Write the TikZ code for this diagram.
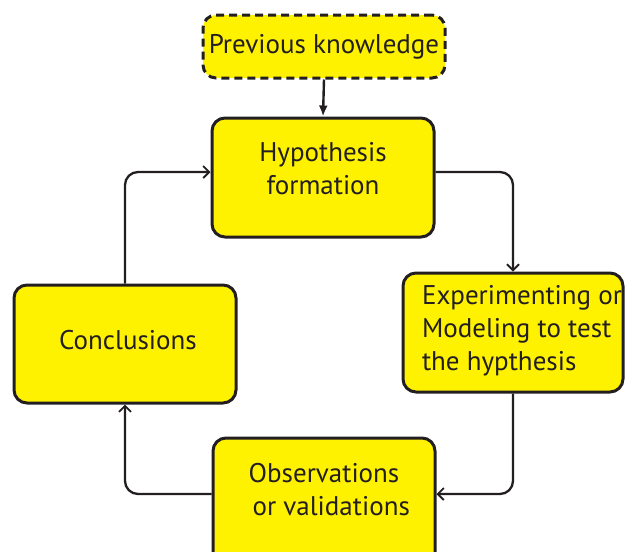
\documentclass[tikz,border=0pt]{standalone}
\usepackage{fontspec}
\setmainfont{PT Sans}
\usetikzlibrary{arrows.meta,calc}
\definecolor{boxyellow}{HTML}{FFF200}
\definecolor{ink}{HTML}{231F20}
\newcommand{\diagfont}{\fontsize{27}{33}\selectfont}
\tikzset{
  box/.style={draw=ink, line width=3pt, fill=boxyellow, rounded corners=13pt,
    minimum width=#1, inner sep=0pt, font=\diagfont, text=ink},
  lbl/.style={font=\diagfont, text=ink},
  conn/.style={draw=ink, line width=2.3pt, rounded corners=13pt,
    -{Straight Barb[length=6pt,width=12pt,line width=1.8pt]}},
  mainarrow/.style={draw=ink, line width=2.4pt, -{Latex[length=11pt,width=9pt]}}
}
\begin{document}
\begin{tikzpicture}[x=1pt,y=-1pt]
\useasboundingbox (0,0) rectangle (625,552);
\coordinate (yh) at (0,172);
\coordinate (yo) at (0,494);
% previous knowledge
\node[box=242pt, minimum height=63pt, dashed, dash pattern=on 8pt off 5pt]
  (prev) at (324,46.5) {Previous knowledge};
% hypothesis
\node[box=222pt, minimum height=119pt,
  label={[lbl, align=center, yshift=9pt]center:Hypothesis\\formation}]
  (hyp) at (323,177.5) {};
% experimenting
\node[box=220pt, minimum height=119pt,
  label={[lbl, align=left, anchor=west, xshift=17pt, yshift=2pt]west:Experimenting or\\Modeling to test\\the hypthesis}]
  (exp) at (513,332.5) {};
% conclusions
\node[box=222pt, minimum height=118pt,
  label={[lbl, yshift=4pt, xshift=3pt]center:Conclusions}]
  (conc) at (125,344) {};
% observations
\node[box=222pt, minimum height=127pt,
  label={[lbl, align=center, yshift=12pt]center:Observations\\\hphantom{o}or validations}]
  (obs) at (324,501.5) {};
% connectors
\draw[mainarrow] (prev.south) -- (hyp.north);
\draw[conn] (hyp.east |- yh) -| (exp.north);
\draw[conn] (exp.south) |- (obs.east |- yo);
\draw[conn] (obs.west |- yo) -| (conc.south);
\draw[conn] (conc.north) |- (hyp.west |- yh);
\end{tikzpicture}
\end{document}
